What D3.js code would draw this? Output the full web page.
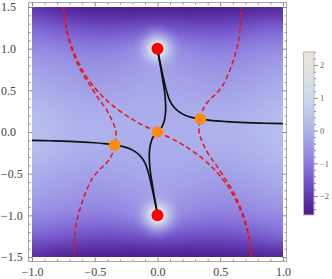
<!DOCTYPE html>
<html>
<head>
<meta charset="utf-8">
<script src="https://cdn.jsdelivr.net/npm/d3@7"></script>
<style>
  body { margin: 0; background: #fff; }
  svg { display: block; }
  .axis text { font-family: "Liberation Serif", "DejaVu Serif", serif; fill: #444; }
  .axis line { stroke: #888; }
  .axis path { display: none; }
</style>
</head>
<body>
<div id="chart"></div>
<script>
// density grid (rows from y = 1.5 down to y = -1.5)
var gridX = [-1, -0.8, -0.6, -0.4, -0.2, 0, 0.2, 0.4, 0.6, 0.8, 1];
var gridY = [1.5, 1.25, 1, 0.75, 0.5, 0.25, 0, -0.25, -0.5, -0.75, -1, -1.25, -1.5];
var gridValues = [
  [-2.0, -2.35, -2.5, -2.55, -2.6, -2.6, -2.6, -2.55, -2.5, -2.4, -2.3],
  [-1.25, -1.45, -1.6, -1.65, -1.6, -1.5, -1.6, -1.65, -1.6, -1.45, -1.35],
  [-0.7, -0.8, -0.9, -0.9, -0.75, -0.5, -0.75, -0.9, -0.9, -0.8, -0.7],
  [-0.3, -0.45, -0.55, -0.55, -0.45, -0.3, -0.45, -0.55, -0.55, -0.45, -0.3],
  [-0.05, -0.2, -0.3, -0.3, -0.25, -0.2, -0.25, -0.3, -0.3, -0.2, -0.05],
  [0.2, 0.05, -0.1, -0.1, -0.1, -0.1, -0.1, -0.1, -0.1, 0.05, 0.2],
  [0.3, 0.15, 0.0, 0.0, -0.05, -0.05, -0.05, 0.0, 0.0, 0.15, 0.3],
  [0.2, 0.05, -0.1, -0.1, -0.1, -0.1, -0.1, -0.1, -0.1, 0.05, 0.2],
  [-0.05, -0.2, -0.3, -0.3, -0.25, -0.2, -0.25, -0.3, -0.3, -0.2, -0.05],
  [-0.3, -0.45, -0.55, -0.55, -0.45, -0.3, -0.45, -0.55, -0.55, -0.45, -0.3],
  [-0.7, -0.8, -0.9, -0.9, -0.75, -0.5, -0.75, -0.9, -0.9, -0.8, -0.7],
  [-1.35, -1.45, -1.6, -1.65, -1.6, -1.5, -1.6, -1.65, -1.6, -1.45, -1.25],
  [-2.2, -2.4, -2.5, -2.55, -2.6, -2.6, -2.6, -2.55, -2.5, -2.45, -2.4]
];

// special points
var poles = [[0, 1], [0, -1]];
var saddles = [[0, 0], [0.342, 0.157], [-0.342, -0.157]];

// solid black flow lines
var blackLines = [
  [[0, 1], [0.01, 0.9], [0.025, 0.78], [0.04, 0.64], [0.055, 0.5], [0.063, 0.38], [0.065, 0.25], [0.055, 0.14], [0.035, 0.06], [0, 0]],
  [[0, 1], [0.012, 0.9], [0.028, 0.78], [0.045, 0.66], [0.062, 0.55], [0.08, 0.45], [0.1, 0.37], [0.13, 0.3], [0.17, 0.245], [0.22, 0.2], [0.28, 0.172], [0.342, 0.157]],
  [[0.342, 0.157], [0.42, 0.14], [0.55, 0.125], [0.7, 0.113], [0.85, 0.105], [1.0, 0.1]],
  [[0, -1], [-0.01, -0.9], [-0.025, -0.78], [-0.04, -0.64], [-0.055, -0.5], [-0.063, -0.38], [-0.065, -0.25], [-0.055, -0.14], [-0.035, -0.06], [0, 0]],
  [[0, -1], [-0.012, -0.9], [-0.028, -0.78], [-0.045, -0.66], [-0.062, -0.55], [-0.08, -0.45], [-0.1, -0.37], [-0.13, -0.3], [-0.17, -0.245], [-0.22, -0.2], [-0.28, -0.172], [-0.342, -0.157]],
  [[-0.342, -0.157], [-0.42, -0.14], [-0.55, -0.125], [-0.7, -0.113], [-0.85, -0.105], [-1.0, -0.1]]
];

// dashed red lines
var redDashed = [
  [[-0.748, 1.5], [-0.732, 1.3], [-0.7, 1.1], [-0.65, 0.9], [-0.582, 0.7], [-0.5, 0.53], [-0.44, 0.43], [-0.36, 0.32], [-0.25, 0.2], [-0.14, 0.1], [0, 0]],
  [[-0.748, 1.5], [-0.735, 1.3], [-0.705, 1.1], [-0.66, 0.9], [-0.597, 0.7], [-0.525, 0.53], [-0.46, 0.38], [-0.405, 0.265], [-0.363, 0.14], [-0.335, 0.03], [-0.33, -0.07], [-0.342, -0.157]],
  [[-0.342, -0.157], [-0.36, -0.26], [-0.4, -0.36], [-0.46, -0.45], [-0.52, -0.56], [-0.565, -0.7], [-0.6, -0.84], [-0.632, -1.0], [-0.652, -1.15], [-0.661, -1.3], [-0.663, -1.5]],
  [[0.748, -1.5], [0.732, -1.3], [0.7, -1.1], [0.65, -0.9], [0.582, -0.7], [0.5, -0.53], [0.44, -0.43], [0.36, -0.32], [0.25, -0.2], [0.14, -0.1], [0, 0]],
  [[0.748, -1.5], [0.735, -1.3], [0.705, -1.1], [0.66, -0.9], [0.597, -0.7], [0.525, -0.53], [0.46, -0.38], [0.405, -0.265], [0.363, -0.14], [0.335, -0.03], [0.33, 0.07], [0.342, 0.157]],
  [[0.342, 0.157], [0.36, 0.26], [0.4, 0.36], [0.46, 0.45], [0.52, 0.56], [0.565, 0.7], [0.6, 0.84], [0.632, 1.0], [0.652, 1.15], [0.661, 1.3], [0.663, 1.5]]
];

// ticks
var xTicks = [-1, -0.5, 0, 0.5, 1];
var yTicks = [1.5, 1, 0.5, 0, -0.5, -1, -1.5];
var legendTicks = [2, 1, 0, -1, -2];
var legendRange = [-2.58, 2.4];

// colour map (lake-like)
var colorValues = [-2.58, -2, -1.5, -1, -0.5, 0, 0.5, 1, 1.5, 2, 2.4];
var colorHex = ["#4c1a8c", "#5e38b0", "#7558cc", "#8b78de", "#9c98e6", "#aeb2ec",
                "#bcc8ee", "#c9d9eb", "#d8dfe4", "#e5e3da", "#ebe5d5"];

var svgWidth = 332, svgHeight = 279;

var svg = d3.select("#chart").append("svg")
  .attr("width", svgWidth)
  .attr("height", svgHeight);

var x = d3.scaleLinear().domain([-1, 1]).range([32, 283]);
var y = d3.scaleLinear().domain([-1.5, 1.5]).range([257, 7]);
var color = d3.scaleLinear().domain(colorValues).range(colorHex).clamp(true);

// ---- density image ----
var nx = gridX.length, ny = gridY.length;
var small = document.createElement("canvas");
small.width = nx + 2;
small.height = ny + 2;
var sctx = small.getContext("2d");
var img = sctx.createImageData(nx + 2, ny + 2);
for (var j = 0; j < ny + 2; j++) {
  for (var i = 0; i < nx + 2; i++) {
    var jj = Math.min(ny - 1, Math.max(0, j - 1));
    var ii = Math.min(nx - 1, Math.max(0, i - 1));
    var c = d3.rgb(color(gridValues[jj][ii]));
    var k = (j * (nx + 2) + i) * 4;
    img.data[k] = c.r; img.data[k + 1] = c.g; img.data[k + 2] = c.b; img.data[k + 3] = 255;
  }
}
sctx.putImageData(img, 0, 0);

var pw = Math.round(x(gridX[nx - 1]) - x(gridX[0]));
var ph = Math.round(y(gridY[ny - 1]) - y(gridY[0]));
var big = document.createElement("canvas");
big.width = pw;
big.height = ph;
var bctx = big.getContext("2d");
bctx.imageSmoothingEnabled = true;
bctx.imageSmoothingQuality = "high";
var dx = pw / (nx - 1), dy = ph / (ny - 1);
bctx.drawImage(small, -1.5 * dx, -1.5 * dy, (nx + 2) * dx, (ny + 2) * dy);

var defs = svg.append("defs");
defs.append("clipPath").attr("id", "plotClip")
  .append("rect")
  .attr("x", x(-1)).attr("y", y(1.5))
  .attr("width", pw).attr("height", ph);

var glow = defs.append("radialGradient").attr("id", "glow");
[[0, "#f2f2e4", 1], [0.25, "#e4eaea", 0.92], [0.5, "#cfd9ee", 0.55], [0.75, "#bcc4ee", 0.2], [1, "#b0b4ec", 0]]
  .forEach(function(s) {
    glow.append("stop").attr("offset", s[0]).attr("stop-color", s[1]).attr("stop-opacity", s[2]);
  });

var plot = svg.append("g").attr("clip-path", "url(#plotClip)");

plot.append("image")
  .attr("href", big.toDataURL())
  .attr("x", x(-1)).attr("y", y(1.5))
  .attr("width", pw).attr("height", ph);

plot.selectAll("circle.glow")
  .data(poles)
  .enter().append("circle")
  .attr("class", "glow")
  .attr("cx", d => x(d[0]))
  .attr("cy", d => y(d[1]))
  .attr("r", 25)
  .attr("fill", "url(#glow)");

var line = d3.line()
  .x(d => x(d[0]))
  .y(d => y(d[1]))
  .curve(d3.curveCatmullRom.alpha(0.5));

plot.selectAll("path.dashed")
  .data(redDashed)
  .enter().append("path")
  .attr("class", "dashed")
  .attr("d", line)
  .attr("fill", "none")
  .attr("stroke", "#f01010")
  .attr("stroke-width", 1.5)
  .attr("stroke-dasharray", "5,3");

plot.selectAll("path.flow")
  .data(blackLines)
  .enter().append("path")
  .attr("class", "flow")
  .attr("d", line)
  .attr("fill", "none")
  .attr("stroke", "#111")
  .attr("stroke-width", 1.7);

plot.selectAll("circle.pole")
  .data(poles)
  .enter().append("circle")
  .attr("class", "pole")
  .attr("cx", d => x(d[0]))
  .attr("cy", d => y(d[1]))
  .attr("r", 6)
  .attr("fill", "#ff0000");

plot.selectAll("circle.saddle")
  .data(saddles)
  .enter().append("circle")
  .attr("class", "saddle")
  .attr("cx", d => x(d[0]))
  .attr("cy", d => y(d[1]))
  .attr("r", 5.8)
  .attr("fill", "#ff8a10");

// ---- frame and ticks ----
var fL = 28.5, fR = 286.5, fT = 2.5, fB = 261.5;
svg.append("rect")
  .attr("x", fL).attr("y", fT)
  .attr("width", fR - fL).attr("height", fB - fT)
  .attr("fill", "none")
  .attr("stroke", "#aaa")
  .attr("stroke-width", 1);

var fmt = d3.format(".1f");
var xMinor = x.ticks(20).filter(v => xTicks.indexOf(v) < 0);
var yMinor = y.ticks(30).filter(v => yTicks.indexOf(v) < 0);

function addAxis(axisFn, scale, pos, major, minor, labels) {
  var g = svg.append("g").attr("class", "axis").attr("transform", pos);
  g.call(axisFn(scale).tickValues(minor).tickSize(-2).tickFormat(""));
  var g2 = svg.append("g").attr("class", "axis").attr("transform", pos);
  g2.call(axisFn(scale).tickValues(major).tickSize(-4).tickPadding(6)
    .tickFormat(labels ? fmt : ""));
  return g2;
}

var bottomAx = addAxis(d3.axisBottom, x, `translate(0,${fB})`, xTicks, xMinor, true);
bottomAx.selectAll("text").attr("font-size", 12);
addAxis(d3.axisTop, x, `translate(0,${fT})`, xTicks, xMinor, false);
var leftAx = addAxis(d3.axisLeft, y, `translate(${fL},0)`, yTicks, yMinor, true);
leftAx.selectAll("text")
  .attr("font-size", 12)
  .attr("text-anchor", "start")
  .attr("x", 1 - fL);
addAxis(d3.axisRight, y, `translate(${fR},0)`, yTicks, yMinor, false);

// ---- colour bar ----
var legX = 303.5, legW = 10.5;
var yL = d3.scaleLinear().domain(legendRange).range([215, 52]);

var lg = defs.append("linearGradient").attr("id", "legendGrad")
  .attr("x1", 0).attr("y1", 1).attr("x2", 0).attr("y2", 0);
colorValues.forEach(function(v, i) {
  lg.append("stop")
    .attr("offset", (v - legendRange[0]) / (legendRange[1] - legendRange[0]))
    .attr("stop-color", colorHex[i]);
});

svg.append("rect")
  .attr("x", legX).attr("y", yL(legendRange[1]))
  .attr("width", legW).attr("height", yL(legendRange[0]) - yL(legendRange[1]))
  .attr("fill", "url(#legendGrad)")
  .attr("stroke", "#bbb")
  .attr("stroke-width", 1);

var legMinor = yL.ticks(25).filter(v => legendTicks.indexOf(v) < 0);
svg.append("g").attr("class", "axis")
  .attr("transform", `translate(${legX + legW},0)`)
  .call(d3.axisRight(yL).tickValues(legMinor).tickSize(2).tickFormat(""))
  .selectAll("line").attr("stroke", "#ccc");

var legAx = svg.append("g").attr("class", "axis")
  .attr("transform", `translate(${legX + legW},0)`)
  .call(d3.axisRight(yL).tickValues(legendTicks).tickSize(4).tickPadding(2)
    .tickFormat(d3.format("d")));
legAx.selectAll("text").attr("font-size", 8.5).style("fill", "#666");
legAx.selectAll("line").attr("stroke", "#aaa");
</script>
</body>
</html>
